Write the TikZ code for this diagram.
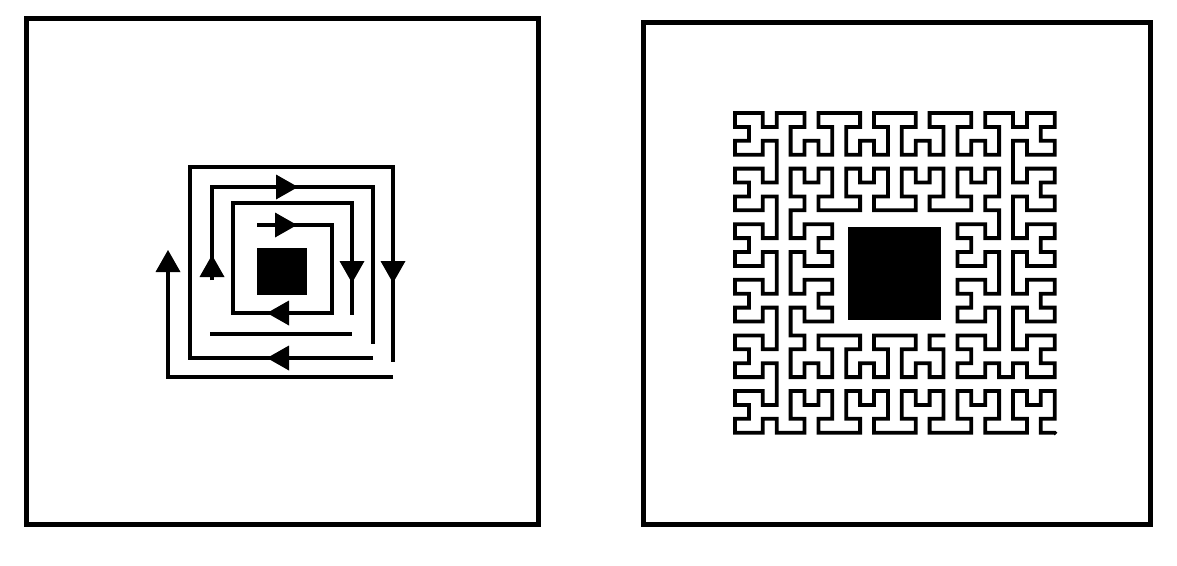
\documentclass[tikz,border=0pt]{standalone}
\tikzset{
  frame/.style={draw=black, line width=5pt},
  coil/.style={draw=black, line width=4.5pt, line join=miter, line cap=butt},
  fractal/.style={draw=black, line width=3.8pt, line join=miter, line cap=rect},
  chip/.style={fill=black},
  tri/.style={fill=black}
}
\newcommand\coilarrow[3]{\fill[tri, shift={(#1,#2)}, rotate=#3] (0,0) -- (-22,12.5) -- (-22,-12.5) -- cycle;}
\begin{document}
\begin{tikzpicture}[x=1pt, y=-1pt]
\useasboundingbox (0,0) rectangle (1177,565);
% frames
\draw[frame] (26.5,18.5) rectangle (538.5,524.5);
\draw[frame] (643.5,22.5) rectangle (1150.5,524.5);

% ---------- left: rectangular coil ----------
\fill[chip] (257,248) rectangle (307,295);
\draw[coil] (257,225) -- (332,225) -- (332,313) -- (233,313) -- (233,203) -- (352,203) -- (352,315);
\draw[coil] (210,334) -- (352,334);
\draw[coil] (212,280) -- (212,187) -- (373,187) -- (373,344);
\draw[coil] (373,358) -- (190,358) -- (190,167) -- (393,167) -- (393,362);
\draw[coil] (393,377) -- (168,377) -- (168,268);
\coilarrow{297}{225}{0}
\coilarrow{267}{313}{180}
\coilarrow{352}{283}{-90}
\coilarrow{212}{255}{90}
\coilarrow{298}{187}{0}
\coilarrow{267}{358}{180}
\coilarrow{393}{283}{-90}
\coilarrow{168}{250}{90}

% ---------- right: space-filling coil ----------
\fill[chip] (848,227) rectangle (941,320);
\draw[fractal] (1054.7,432.7)
  \foreach \sc/\sr/\uc/\ur/\vc/\vr in {
    23/23/-1/0/0/-1, 19/23/-1/0/0/-1, 15/23/-1/0/0/-1, 11/23/-1/0/0/-1, 7/23/-1/0/0/-1,
    3/23/0/-1/-1/0, 3/19/0/-1/-1/0, 3/15/0/-1/-1/0, 3/11/0/-1/-1/0, 3/7/0/-1/-1/0, 3/3/0/-1/-1/0,
    4/0/1/0/0/1, 8/0/1/0/0/1, 12/0/1/0/0/1, 16/0/1/0/0/1,
    20/0/0/1/1/0, 20/4/0/1/1/0, 20/8/0/1/1/0, 20/12/0/1/1/0, 20/16/0/1/1/0,
    19/19/0/-1/-1/0, 19/15/0/-1/-1/0, 19/11/0/-1/-1/0,
    19/7/-1/0/0/-1, 15/7/-1/0/0/-1, 11/7/-1/0/0/-1, 7/7/-1/0/0/-1,
    4/8/0/1/1/0, 4/12/0/1/1/0,
    4/16/1/0/0/1, 8/16/1/0/0/1, 12/16/1/0/0/1}
  { \foreach \ua/\va in {0/0,1/0,1/1,0/1,0/2,0/3,1/3,1/2,2/2,2/3,3/3,3/2,3/1,2/1,2/0,3/0}
    { -- ({735+13.9*(\sc+(\ua)*(\uc)+(\va)*(\vc))},{113+13.9*(\sr+(\ua)*(\ur)+(\va)*(\vr))}) } };
\end{tikzpicture}
\end{document}
